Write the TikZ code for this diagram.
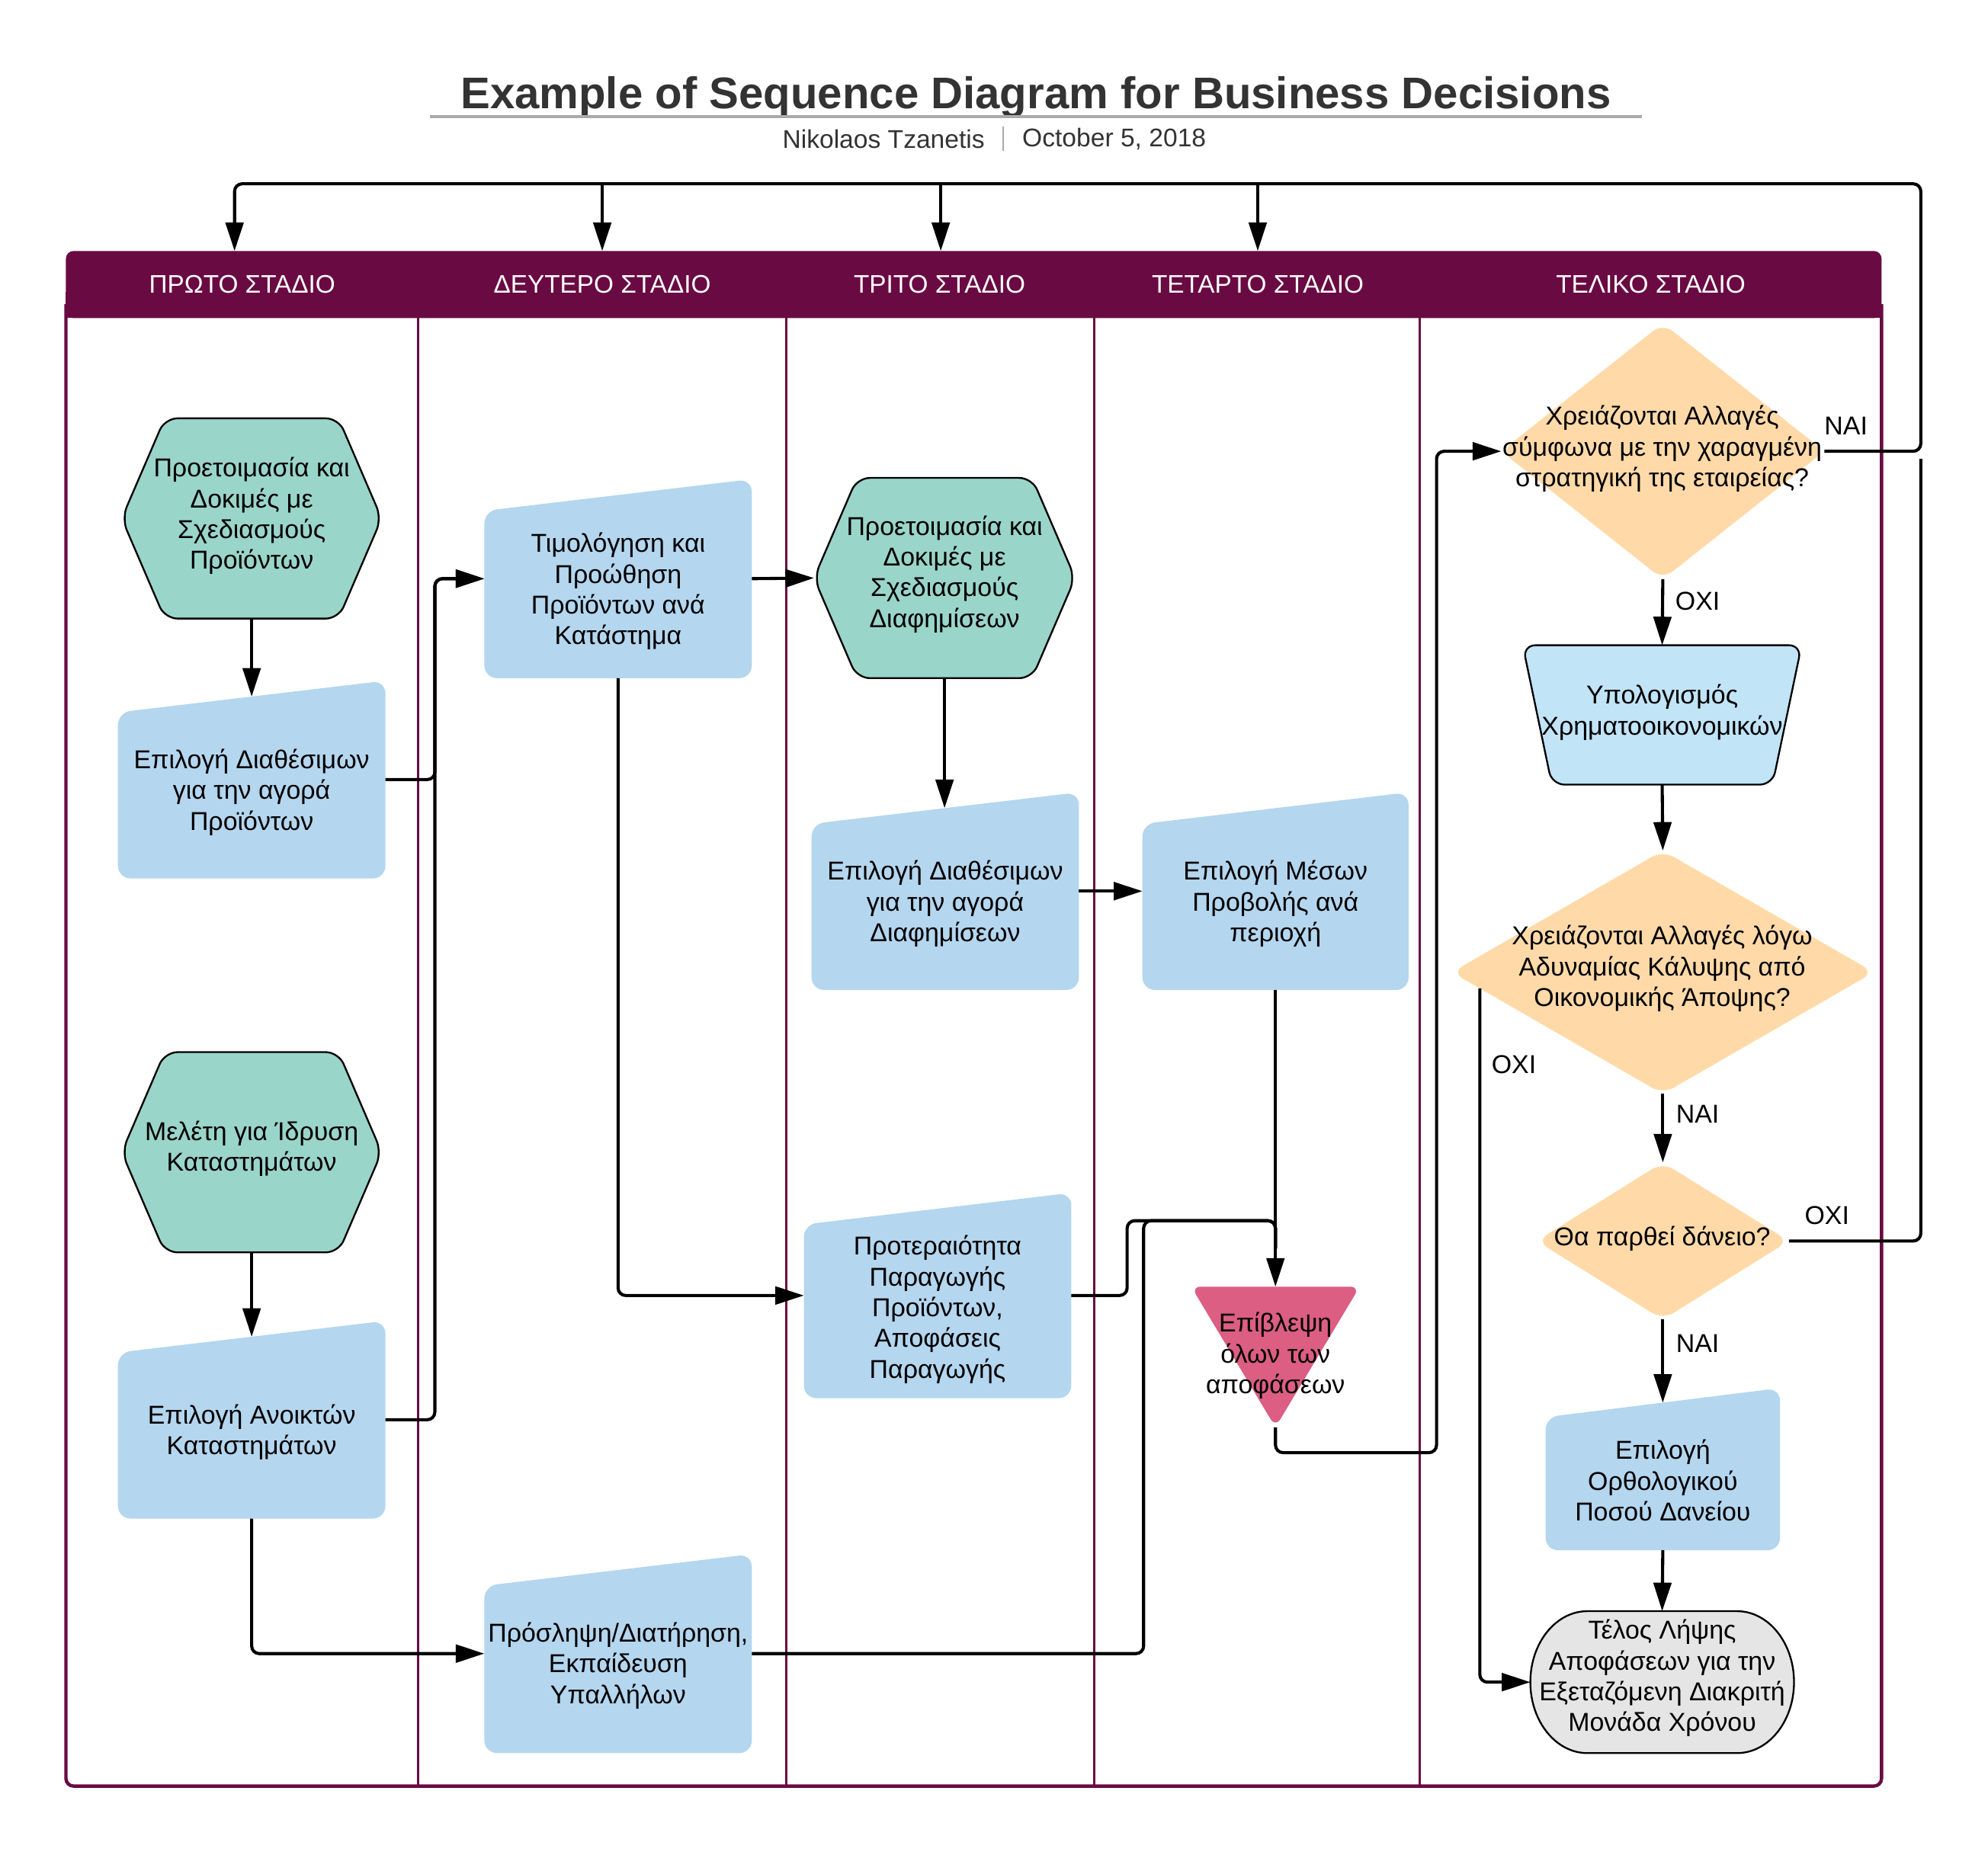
\documentclass[tikz,border=0pt]{standalone}
\usepackage{fontspec}
\setmainfont{Liberation Sans}
\usetikzlibrary{arrows.meta,shapes.geometric,calc}
\definecolor{hdrc}{RGB}{106,10,66}
\definecolor{hexg}{RGB}{154,213,202}
\definecolor{lblue}{RGB}{180,214,239}
\definecolor{trapc}{RGB}{193,228,247}
\definecolor{diac}{RGB}{255,218,168}
\definecolor{pinkc}{RGB}{220,94,131}
\definecolor{termc}{RGB}{229,229,229}
\definecolor{titlec}{RGB}{51,51,51}
\definecolor{rulec}{RGB}{170,170,170}
\tikzset{
  anchorbox/.style={draw=none,fill=none,shape=rectangle,inner sep=0pt,outer sep=0pt},
  txt/.style={align=center,font=\fontsize{11.6}{13.8}\selectfont,inner sep=0pt,text=black},
  hdrtxt/.style={align=center,font=\fontsize{11.4}{13.6}\selectfont,inner sep=0pt,text=white},
  conn/.style={line width=1.4pt,rounded corners=0.12cm,-{Triangle[length=0.45cm,width=0.28cm]}},
  link/.style={line width=1.4pt,rounded corners=0.12cm},
  hexs/.style={draw=black,line width=0.8pt,fill=hexg,rounded corners=0.2cm},
  manual/.style={fill=lblue,rounded corners=0.2cm},
  diashape/.style={diamond,fill=diac,inner sep=0pt,outer sep=0pt,rounded corners=0.2cm},
}
\begin{document}
\begin{tikzpicture}[x=0.02cm,y=-0.02cm]
\useasboundingbox (0,0) rectangle (1568,1463);

% title
\node[font=\bfseries\fontsize{19.9}{24}\selectfont,text=titlec,inner sep=0pt] (title) at (817,77) {Example of Sequence Diagram for Business Decisions};
\draw[rulec,line width=1.2pt] (339,92) -- (1295,92);
\node[font=\fontsize{11.5}{13.8}\selectfont,text=titlec,inner sep=0pt,anchor=east] (author) at (777,110) {Nikolaos Tzanetis};
\node[font=\fontsize{11.5}{13.8}\selectfont,text=titlec,inner sep=0pt,anchor=west] (date) at (806,110) {October 5, 2018};
\draw[rulec,line width=0.6pt] (791,100) -- (791,119);

% swimlanes
\fill[hdrc,rounded corners=0.12cm] (52,198) rectangle (1484,251);
\fill[hdrc] (52,230) rectangle (1484,251);
\node[anchorbox,minimum width=28.64cm,minimum height=1.06cm] (hdr) at (768,224.5) {};
\draw[hdrc,line width=1.5pt,rounded corners=0.12cm] (52,240) -- (52,1409) -- (1484,1409) -- (1484,240);
\foreach \lx in {330,620,863,1120} \draw[hdrc,line width=1.1pt] (\lx,251) -- (\lx,1409);
\node[hdrtxt] (L1) at (191,224) {ΠΡΩΤΟ ΣΤΑΔΙΟ};
\node[hdrtxt] (L2) at (475,224) {ΔΕΥΤΕΡΟ ΣΤΑΔΙΟ};
\node[hdrtxt] (L3) at (741,224) {ΤΡΙΤΟ ΣΤΑΔΙΟ};
\node[hdrtxt] (L4) at (992,224) {ΤΕΤΑΡΤΟ ΣΤΑΔΙΟ};
\node[hdrtxt] (L5) at (1302,224) {ΤΕΛΙΚΟ ΣΤΑΔΙΟ};

% ---------- shapes ----------
% hexagons
\node[anchorbox,minimum width=4.1cm,minimum height=3.16cm] (h1) at (198.5,409) {};
\draw[hexs] (h1.west) -- ([xshift=0.68cm]h1.north west) -- ([xshift=-0.68cm]h1.north east) -- (h1.east) -- ([xshift=-0.68cm]h1.south east) -- ([xshift=0.68cm]h1.south west) -- cycle;
\node[txt] (h1t) at (198.5,407) {Προετοιμασία και\\Δοκιμές με\\Σχεδιασμούς\\Προϊόντων};

\node[anchorbox,minimum width=4.1cm,minimum height=3.16cm] (h2) at (198.5,909) {};
\draw[hexs] (h2.west) -- ([xshift=0.68cm]h2.north west) -- ([xshift=-0.68cm]h2.north east) -- (h2.east) -- ([xshift=-0.68cm]h2.south east) -- ([xshift=0.68cm]h2.south west) -- cycle;
\node[txt] (h2t) at (198.5,906) {Μελέτη για Ίδρυση\\Καταστημάτων};

\node[anchorbox,minimum width=4.12cm,minimum height=3.16cm] (h3) at (745,456) {};
\draw[hexs] (h3.west) -- ([xshift=0.68cm]h3.north west) -- ([xshift=-0.68cm]h3.north east) -- (h3.east) -- ([xshift=-0.68cm]h3.south east) -- ([xshift=0.68cm]h3.south west) -- cycle;
\node[txt] (h3t) at (745,453) {Προετοιμασία και\\Δοκιμές με\\Σχεδιασμούς\\Διαφημίσεων};

% manual input boxes
\node[anchorbox,minimum width=4.22cm,minimum height=3.12cm] (p1) at (198.5,615) {};
\fill[manual] (p1.south west) -- ([yshift=-0.5cm]p1.north west) -- (p1.north east) -- (p1.south east) -- cycle;
\node[txt] (p1t) at (198.5,625) {Επιλογή Διαθέσιμων\\για την αγορά\\Προϊόντων};

\node[anchorbox,minimum width=4.22cm,minimum height=3.12cm] (p2) at (198.5,1120) {};
\fill[manual] (p2.south west) -- ([yshift=-0.5cm]p2.north west) -- (p2.north east) -- (p2.south east) -- cycle;
\node[txt] (p2t) at (198.5,1130) {Επιλογή Ανοικτών\\Καταστημάτων};

\node[anchorbox,minimum width=4.22cm,minimum height=3.14cm] (p3) at (487.5,456.5) {};
\fill[manual] (p3.south west) -- ([yshift=-0.5cm]p3.north west) -- (p3.north east) -- (p3.south east) -- cycle;
\node[txt] (p3t) at (487.5,466.5) {Τιμολόγηση και\\Προώθηση\\Προϊόντων ανά\\Κατάστημα};

\node[anchorbox,minimum width=4.22cm,minimum height=3.14cm] (p4) at (487.5,1304.5) {};
\fill[manual] (p4.south west) -- ([yshift=-0.5cm]p4.north west) -- (p4.north east) -- (p4.south east) -- cycle;
\node[txt] (p4t) at (487.5,1314) {Πρόσληψη/Διατήρηση,\\Εκπαίδευση\\Υπαλλήλων};

\node[anchorbox,minimum width=4.22cm,minimum height=3.12cm] (p5) at (745.5,703) {};
\fill[manual] (p5.south west) -- ([yshift=-0.5cm]p5.north west) -- (p5.north east) -- (p5.south east) -- cycle;
\node[txt] (p5t) at (745.5,713) {Επιλογή Διαθέσιμων\\για την αγορά\\Διαφημίσεων};

\node[anchorbox,minimum width=4.22cm,minimum height=3.24cm] (p6) at (739.5,1022) {};
\fill[manual] (p6.south west) -- ([yshift=-0.5cm]p6.north west) -- (p6.north east) -- (p6.south east) -- cycle;
\node[txt] (p6t) at (739.5,1033) {Προτεραιότητα\\Παραγωγής\\Προϊόντων,\\Αποφάσεις\\Παραγωγής};

\node[anchorbox,minimum width=4.2cm,minimum height=3.12cm] (p7) at (1006,703) {};
\fill[manual] (p7.south west) -- ([yshift=-0.5cm]p7.north west) -- (p7.north east) -- (p7.south east) -- cycle;
\node[txt] (p7t) at (1006,713) {Επιλογή Μέσων\\Προβολής ανά\\περιοχή};

\node[anchorbox,minimum width=3.7cm,minimum height=2.56cm] (p8) at (1311.5,1159) {};
\fill[manual] (p8.south west) -- ([yshift=-0.46cm]p8.north west) -- (p8.north east) -- (p8.south east) -- cycle;
\node[txt] (p8t) at (1311.5,1168) {Επιλογή\\Ορθολογικού\\Ποσού Δανείου};

% triangle
\node[anchorbox,minimum width=2.66cm,minimum height=2.22cm] (tri) at (1006,1070.5) {};
\fill[pinkc,rounded corners=0.15cm] (tri.north west) -- (tri.north east) -- (tri.south) -- cycle;
\node[txt] (trit) at (1006,1069.5) {Επίβλεψη\\όλων των\\αποφάσεων};

% diamonds
\node[diashape,minimum width=5.1cm,minimum height=4.04cm] (d1) at (1311.5,356) {};
\node[txt] (d1t) at (1311,354) {Χρειάζονται Αλλαγές\\σύμφωνα με την χαραγμένη\\στρατηγική της εταιρείας?};
\node[diashape,minimum width=6.66cm,minimum height=3.84cm] (d2) at (1311.5,767) {};
\node[txt] (d2t) at (1311,764) {Χρειάζονται Αλλαγές λόγω\\Αδυναμίας Κάλυψης από\\Οικονομικής Άποψης?};
\node[diashape,minimum width=3.98cm,minimum height=2.48cm] (d3) at (1311.5,979) {};
\node[txt] (d3t) at (1311,977) {Θα παρθεί δάνειο?};

% trapezoid
\node[anchorbox,minimum width=4.4cm,minimum height=2.2cm] (trap) at (1311,564) {};
\draw[line width=0.8pt,fill=trapc,rounded corners=0.2cm] (trap.north west) -- (trap.north east) -- ([xshift=-0.46cm]trap.south east) -- ([xshift=0.46cm]trap.south west) -- cycle;
\node[txt] (trapt) at (1311,562) {Υπολογισμός\\Χρηματοοικονομικών};

% terminal
\node[anchorbox,minimum width=4.16cm,minimum height=2.24cm] (term) at (1311,1327) {};
\draw[line width=0.8pt,fill=termc] ([xshift=0.9cm]term.north west) -- ([xshift=-0.9cm]term.north east) arc[start angle=90,end angle=-90,x radius=0.9cm,y radius=1.12cm] -- ([xshift=0.9cm]term.south west) arc[start angle=270,end angle=90,x radius=0.9cm,y radius=1.12cm] -- cycle;
\node[txt] (termt) at (1311,1324) {Τέλος Λήψης\\Αποφάσεων για την\\Εξεταζόμενη Διακριτή\\Μονάδα Χρόνου};

% ---------- connectors ----------
\coordinate (in1) at (185,198);
\coordinate (in2) at (475,198);
\coordinate (in3) at (742,198);
\coordinate (in4) at (992,198);
\coordinate (j2) at (475,145);
\coordinate (j3) at (742,145);
\coordinate (j4) at (992,145);
\coordinate (topR) at (1515,145);
\coordinate (rjoin) at (1515,362);
\coordinate (k6) at (889,963);
\coordinate (k4) at (902,963);
\coordinate (mjoin) at (1006,963);
\coordinate (mend) at (1006,985);

\draw[conn] (h1.south) -- ([yshift=-0.25cm]p1.north);
\draw[conn] (h2.south) -- ([yshift=-0.25cm]p2.north);
\draw[conn] (p1.east) -- ++(39,0) |- (p3.west);
\draw[conn] (p2.east) -- ++(39,0) |- (p3.west);
\draw[conn] (p2.south) |- (p4.west);
\draw[conn] (p3.east) -- (h3.west);
\draw[conn] (p3.south) |- (p6.west);
\draw[conn] (h3.south) -- ([yshift=-0.25cm]p5.north -| h3.south);
\draw[conn] (p5.east) -- (p7.west);
\draw[conn] (p7.south) -- (tri.north);
\draw[link] (p6.east) -| (k6) -- (mjoin) -- (mend);
\draw[link] (p4.east) -| (k4) -- (mjoin) -- (mend);
\draw[conn] (tri.south) -- ++(0,20) -| ($(d1.west)+(-51,0)$) -- (d1.west);
\draw[conn] (d1.south) -- (trap.north);
\draw[conn] (trap.south) -- (d2.north);
\draw[conn] (d2.south) -- (d3.north);
\draw[conn] ($(d2.west)!0.133!(d2.south)$) |- (term.west);
\draw[conn] (d3.south) -- ([yshift=-0.23cm]p8.north);
\draw[conn] (p8.south) -- (term.north);
\draw[link] (d3.east) -| (rjoin);
\draw[conn] (d1.east) -| (topR) -| (in1);
\draw[conn] (j2) -- (in2);
\draw[conn] (j3) -- (in3);
\draw[conn] (j4) -- (in4);

% labels
\node[txt] (lnai1) at (1456,336) {ΝΑΙ};
\node[txt] (loxi1) at (1339,474) {ΟΧΙ};
\node[txt] (loxi2) at (1194,840) {ΟΧΙ};
\node[txt] (lnai2) at (1339,879) {ΝΑΙ};
\node[txt] (loxi3) at (1441,959) {ΟΧΙ};
\node[txt] (lnai3) at (1339,1060) {ΝΑΙ};
\end{tikzpicture}
\end{document}
